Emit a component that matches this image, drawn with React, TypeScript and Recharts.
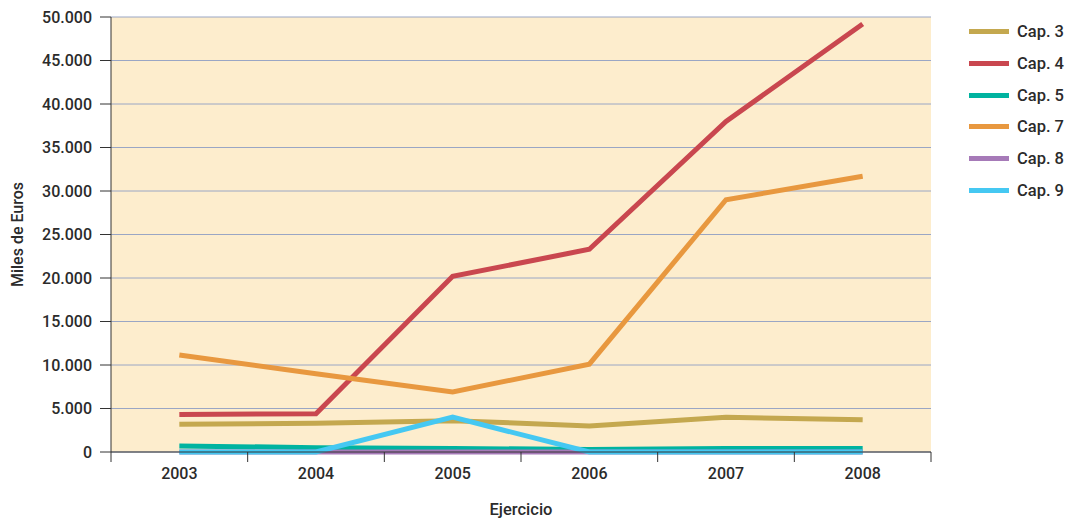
import React from 'react';
import { LineChart, Line, XAxis, YAxis, CartesianGrid, Legend } from 'recharts';

const years = ['2003', '2004', '2005', '2006', '2007', '2008'];
const cap3 = [3200, 3300, 3600, 3000, 4000, 3700];
const cap4 = [4300, 4400, 20200, 23300, 38000, 49200];
const cap5 = [700, 500, 400, 300, 400, 400];
const cap7 = [11150, 9000, 6900, 10100, 29000, 31700];
const cap8 = [0, 0, 0, 0, 0, 0];
const cap9 = [0, 0, 4000, 0, 0, 0];
const yTicks = [0, 5000, 10000, 15000, 20000, 25000, 30000, 35000, 40000, 45000, 50000];

const seriesNames = ['Cap. 3', 'Cap. 4', 'Cap. 5', 'Cap. 7', 'Cap. 8', 'Cap. 9'];
const seriesValues = [cap3, cap4, cap5, cap7, cap8, cap9];
const seriesColors = ['#C4A84F', '#C9474F', '#00B3A0', '#E8983F', '#A67AB8', '#45C8F2'];

const data = years.map((y, i) => {
  const row: Record<string, string | number> = { year: y };
  seriesNames.forEach((n, k) => {
    row[n] = seriesValues[k][i];
  });
  return row;
});

const FONT = "Roboto, 'Liberation Sans', sans-serif";
const TEXT = '#2b2b2b';
const WEIGHT = 500;

const fmt = (v: number) => String(v).replace(/\B(?=(\d{3})+(?!\d))/g, '.');

const BAND = 820 / years.length;

const XTick = (props: any) => {
  const { x, y, payload, index } = props;
  const axisY = y - 14;
  return (
    <g>
      <line x1={x - BAND / 2} x2={x - BAND / 2} y1={axisY} y2={axisY + 10} stroke="#333" strokeWidth={1} />
      {index === years.length - 1 && (
        <line x1={x + BAND / 2} x2={x + BAND / 2} y1={axisY} y2={axisY + 10} stroke="#333" strokeWidth={1} />
      )}
      <text x={x} y={y} dy={13} textAnchor="middle" fill={TEXT} fontSize={16} fontWeight={WEIGHT} fontFamily={FONT}>
        {payload.value}
      </text>
    </g>
  );
};

const renderLegend = () => (
  <div style={{ width: 120, fontFamily: FONT }}>
    {seriesNames.map((n, k) => (
      <div key={n} style={{ height: 31.67, display: 'flex', alignItems: 'center' }}>
        <div style={{ marginLeft: 12, width: 40, height: 5, background: seriesColors[k] }} />
        <span style={{ marginLeft: 8, fontSize: 16.5, fontWeight: WEIGHT, color: TEXT }}>{n}</span>
      </div>
    ))}
  </div>
);

export default function App() {
  return (
    <div style={{ position: 'absolute', left: 0, top: 0, width: 1077, height: 521, background: '#fff' }}>
      <LineChart width={1077} height={521} data={data} margin={{ top: 17, right: 26, bottom: 0, left: 0 }}>
        <CartesianGrid vertical={false} stroke="#9AA6C4" strokeWidth={1} fill="#FDEDCD" fillOpacity={1} />
        <XAxis
          dataKey="year"
          scale="band"
          height={69}
          stroke="#333"
          tickLine={false}
          tickSize={10}
          tickMargin={4}
          tick={<XTick />}
          interval={0}
          label={{ value: 'Ejercicio', position: 'insideBottom', offset: 6, fill: TEXT, fontSize: 16.5, fontWeight: WEIGHT, fontFamily: FONT }}
        />
        <YAxis
          width={111}
          domain={[0, 50000]}
          ticks={yTicks}
          interval={0}
          tickFormatter={fmt}
          stroke="#333"
          tickSize={11}
          tickMargin={8}
          tick={{ fill: TEXT, fontSize: 16, fontWeight: WEIGHT, fontFamily: FONT }}
          label={{ value: 'Miles de Euros', angle: -90, position: 'insideLeft', offset: 17, fill: TEXT, fontSize: 16, fontWeight: WEIGHT, fontFamily: FONT, style: { textAnchor: 'middle' } }}
        />
        <Legend layout="vertical" align="right" verticalAlign="top" content={renderLegend} wrapperStyle={{ top: 16, right: 0, width: 120 }} />
        {seriesNames.map((n, k) => (
          <Line
            key={n}
            type="linear"
            dataKey={n}
            stroke={seriesColors[k]}
            strokeWidth={5}
            dot={false}
            activeDot={false}
            strokeLinejoin="miter"
            isAnimationActive={false}
          />
        ))}
      </LineChart>
    </div>
  );
}
